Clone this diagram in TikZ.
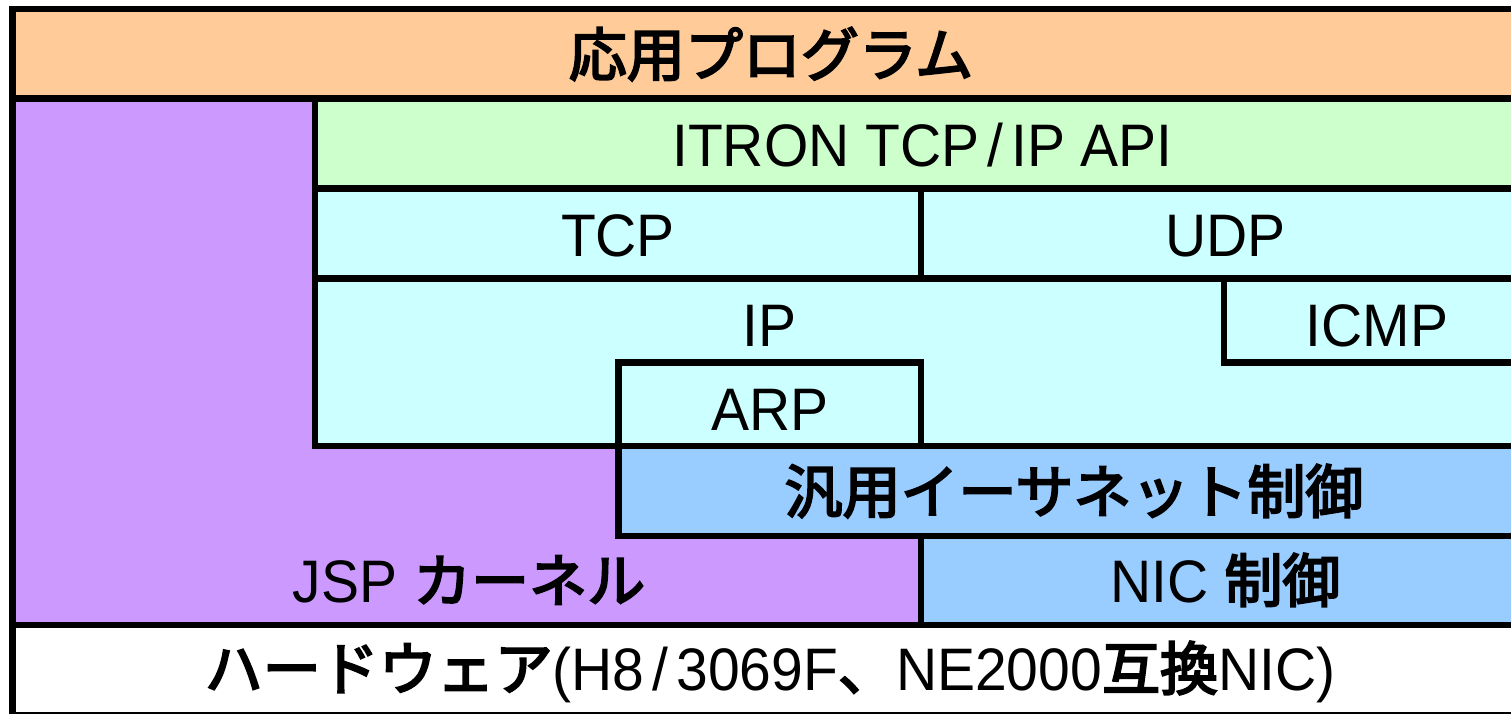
\documentclass[tikz,border=0pt]{standalone}
\usepackage{fontspec}
\setmainfont{Liberation Sans}[FakeStretch=0.95]
\newfontfamily\jpfamily{Noto Sans CJK JP}[FakeBold=3.5]
\newcommand{\jpf}[1]{{\jpfamily\fontsize{58bp}{58bp}\selectfont #1}}
\definecolor{cOrange}{HTML}{FFCC99}
\definecolor{cPurple}{HTML}{CC99FF}
\definecolor{cGreen}{HTML}{CCFFCC}
\definecolor{cCyan}{HTML}{CCFFFF}
\definecolor{cBlue}{HTML}{99CCFF}
\begin{document}
\begin{tikzpicture}[x=1bp,y=-1bp,
  region/.style={draw=black, line width=6.5bp, rectangle, inner sep=0pt, outer sep=0pt, anchor=north west},
  lbl/.style={anchor=base, inner sep=0pt, font=\fontsize{60bp}{60bp}\selectfont}]
\useasboundingbox (0,0) rectangle (1511,714);
\clip (0,0) rectangle (1511,714);
\fill[white] (0,0) rectangle (1511,714);
% regions
\node[region, fill=cPurple, minimum width=908.5bp, minimum height=526.5bp] (kernel) at (12.5,98.5) {};
\node[region, fill=cOrange, minimum width=1517.5bp, minimum height=89.5bp] (app) at (12.5,9) {};
\node[region, fill=cGreen, minimum width=1215bp, minimum height=90bp] (api) at (315,98.5) {};
\node[region, fill=cCyan, minimum width=606bp, minimum height=90bp] (tcp) at (315,188.5) {};
\node[region, fill=cCyan, minimum width=609bp, minimum height=90bp] (udp) at (921,188.5) {};
\node[region, fill=cCyan, minimum width=1215bp, minimum height=167.5bp] (ip) at (315,278.5) {};
\node[region, fill=cCyan, minimum width=306bp, minimum height=84bp] (icmp) at (1224,278.5) {};
\node[region, fill=cCyan, minimum width=302.5bp, minimum height=83.5bp] (arp) at (618.5,362.5) {};
\node[region, fill=cBlue, minimum width=911.5bp, minimum height=90bp] (eth) at (618.5,446) {};
\node[region, fill=cBlue, minimum width=609bp, minimum height=89bp] (nic) at (921,536) {};
\node[region, fill=white, minimum width=1517.5bp, minimum height=90bp] (hw) at (12.5,625) {};
\node[region, minimum width=1517.5bp, minimum height=706bp] (outer) at (12.5,9) {};
% labels
\node[lbl] (tApp) at (771,76) {\jpf{応用プログラム}};
\node[lbl] (tApi) at (922.5,166) {ITRON TCP\kern8bp/\kern8bp IP API};
\node[lbl] (tTcp) at (618,256) {TCP};
\node[lbl] (tUdp) at (1225.5,256) {UDP};
\node[lbl] (tIp) at (769.5,346) {IP};
\node[lbl] (tIcmp) at (1377,346) {ICMP};
\node[lbl] (tArp) at (770,430) {ARP};
\node[lbl] (tEth) at (1074,513) {\jpf{汎用イーサネット制御}};
\node[lbl] (tJsp) at (469,602) {JSP \jpf{カーネル}};
\node[lbl] (tNic) at (1225.5,602) {NIC \jpf{制御}};
\node[lbl] (tHw) at (770,690) {\jpf{ハードウェア}(H8\kern8bp/\kern8bp 3069F\jpf{、}NE2000\jpf{互換}NIC)};
\end{tikzpicture}
\end{document}
